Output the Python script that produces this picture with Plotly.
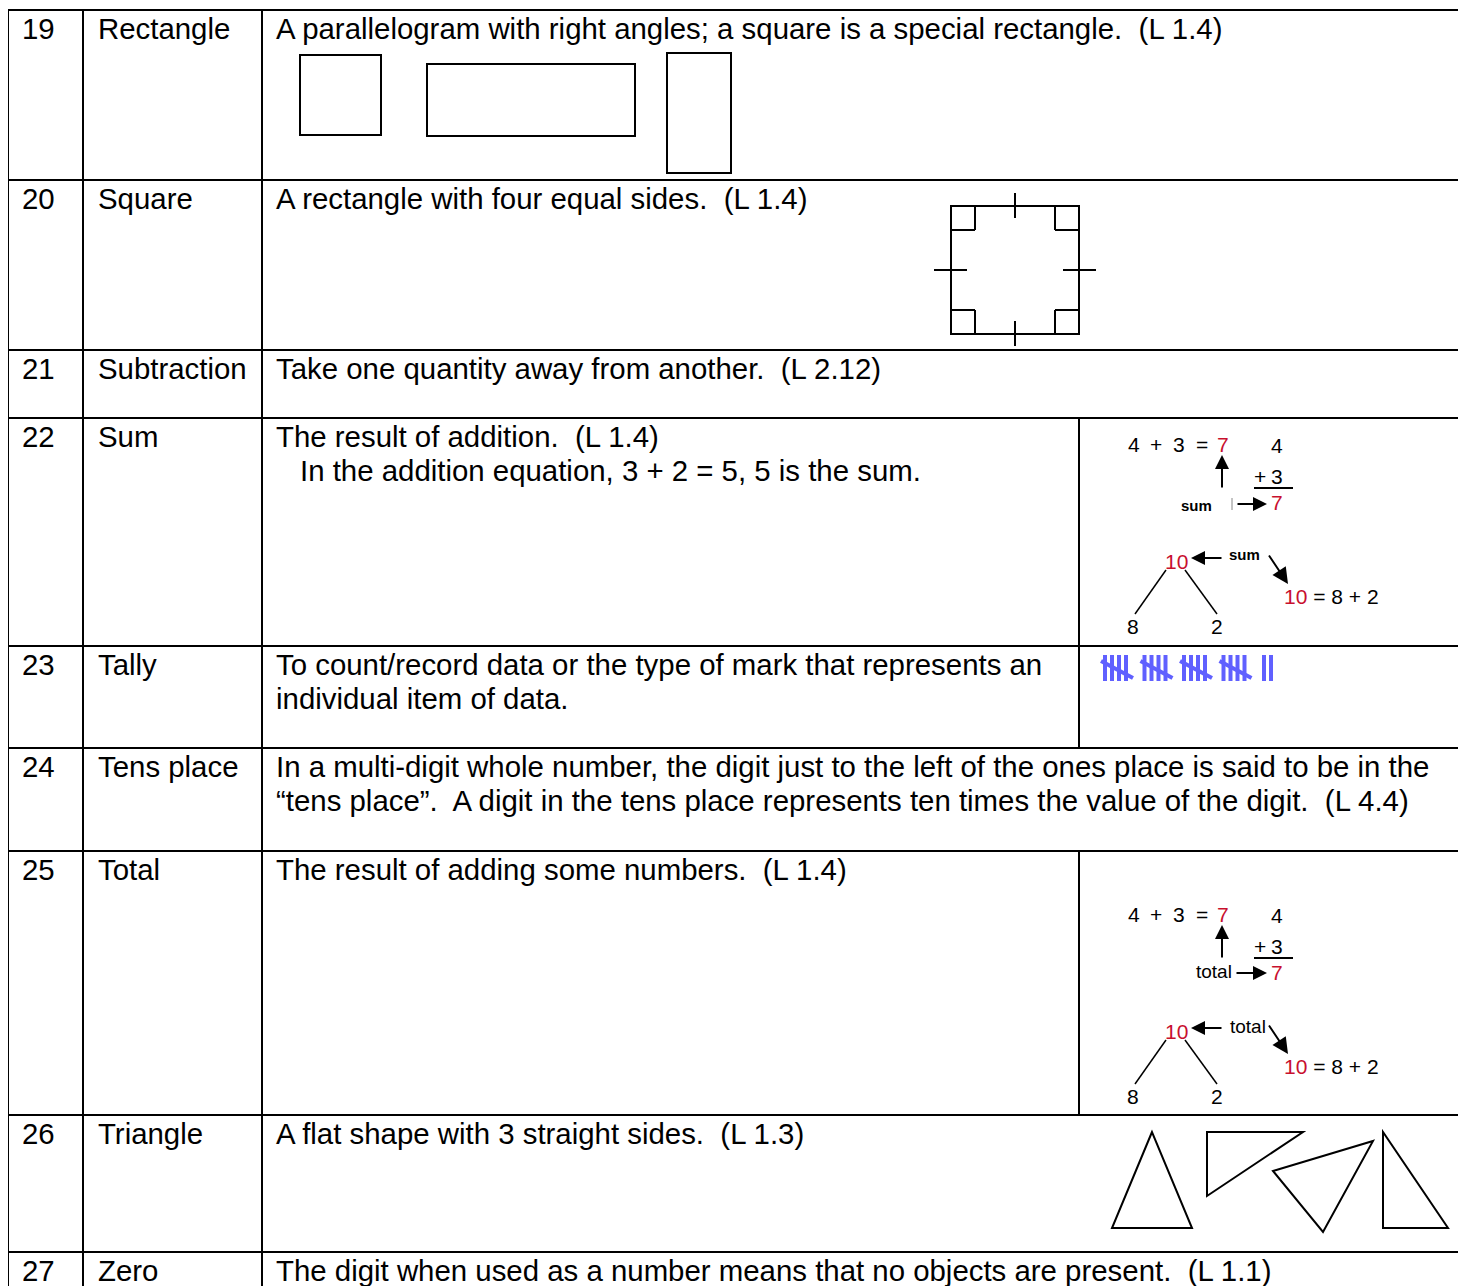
import plotly.graph_objects as go

# glossary content
numbers = ["19", "20", "21", "22", "23", "24", "25", "26", "27"]
terms = ["Rectangle", "Square", "Subtraction", "Sum", "Tally", "Tens place",
         "Total", "Triangle", "Zero"]
definitions = [
    ["A parallelogram with right angles; a square is a special rectangle.  (L 1.4)"],
    ["A rectangle with four equal sides.  (L 1.4)"],
    ["Take one quantity away from another.  (L 2.12)"],
    ["The result of addition.  (L 1.4)",
     "In the addition equation, 3 + 2 = 5, 5 is the sum."],
    ["To count/record data or the type of mark that represents an",
     "individual item of data."],
    ["In a multi-digit whole number, the digit just to the left of the ones place is said to be in the",
     "\u201ctens place\u201d.  A digit in the tens place represents ten times the value of the digit.  (L 4.4)"],
    ["The result of adding some numbers.  (L 1.4)"],
    ["A flat shape with 3 straight sides.  (L 1.3)"],
    ["The digit when used as a number means that no objects are present.  (L 1.1)"],
]
tally_count = 22
addends = [4, 3]
bond_parts = [8, 2]

# page layout (pixels); the page body has an 8px margin, so the axes are offset by it
W, H = 1466, 1286
PAD = 8
row_tops = [10, 180, 350, 418, 646, 748, 851, 1115, 1252]
col_x = [8, 83, 262, 1460]
split_x = 1079
split_rows = [3, 4, 6]          # rows with an illustration column
FONT = "Liberation Sans, Arial, sans-serif"
FS = 29.4
DS = 21                         # diagram font size
RED = "#c8102e"

fig = go.Figure()
shapes = []
ann = []


def line(x0, y0, x1, y1, w=2, color="black"):
    shapes.append(dict(type="line", x0=x0, y0=y0, x1=x1, y1=y1, xref="x", yref="y",
                       line=dict(color=color, width=w)))


def rect(x0, y0, x1, y1, w=2):
    shapes.append(dict(type="rect", x0=x0, y0=y0, x1=x1, y1=y1, xref="x", yref="y",
                       line=dict(color="black", width=w)))


def poly(pts, w=2):
    path = "M " + " L ".join(f"{x},{y}" for x, y in pts) + " Z"
    shapes.append(dict(type="path", path=path, xref="x", yref="y",
                       line=dict(color="black", width=w)))


def text(x, y, s, size=FS, color="black", anchor="left", bold=False):
    if bold:
        s = f"<b>{s}</b>"
    ann.append(dict(x=x, y=y, text=s, showarrow=False, xanchor=anchor, yanchor="middle",
                    font=dict(family=FONT, size=size, color=color), xref="x", yref="y"))


def arrow(x0, y0, x1, y1, size=1.4):
    ann.append(dict(x=x1, y=y1, ax=x0, ay=y0, axref="x", ayref="y", xref="x", yref="y",
                    text="", showarrow=True, arrowhead=2, arrowsize=size, arrowwidth=2,
                    arrowcolor="black", standoff=0, startstandoff=0))


# table grid
table_bottom = H + 30
for y in row_tops:
    line(col_x[0], y, col_x[-1], y)
for x in col_x:
    line(x, row_tops[0], x, table_bottom)
for r in split_rows:
    line(split_x, row_tops[r], split_x, row_tops[r + 1])

# row text
for i, (num, term, lines) in enumerate(zip(numbers, terms, definitions)):
    y = row_tops[i] + 18
    text(20, y, num)
    text(96, y, term)
    for k, s in enumerate(lines):
        indent = 24 if (i == 3 and k == 1) else 0
        text(274 + indent, y + 34 * k, s)

# row 19: rectangles
rect(300, 55, 381, 135)
rect(427, 64, 635, 136)
rect(667, 53, 731, 173)

# row 20: square with right-angle marks and equal-side ticks
sx0, sy0, sx1, sy1, c = 951, 206, 1079, 334, 24
rect(sx0, sy0, sx1, sy1)
for cx, cy, dx, dy in [(sx0, sy0, 1, 1), (sx1, sy0, -1, 1), (sx0, sy1, 1, -1), (sx1, sy1, -1, -1)]:
    line(cx + dx * c, cy, cx + dx * c, cy + dy * c)
    line(cx, cy + dy * c, cx + dx * c, cy + dy * c)
mx, my = (sx0 + sx1) / 2, (sy0 + sy1) / 2
line(mx, sy0 - 13, mx, sy0 + 12)
line(mx, sy1 - 13, mx, sy1 + 12)
line(sx0 - 17, my, sx0 + 16, my)
line(sx1 - 16, my, sx1 + 17, my)


# rows 22 and 25: addition diagrams
def addition_diagram(by, label, bold):
    total = sum(addends)
    toks = [str(addends[0]), "+", str(addends[1]), "="]
    for xx, t in zip([1134, 1156, 1179, 1202], toks):
        text(xx, by, t, size=DS, anchor="center")
    text(1223, by, str(total), size=DS, color=RED, anchor="center")
    text(1277, by + 1, str(addends[0]), size=DS, anchor="center")
    text(1260, by + 32, "+", size=DS, anchor="center")
    text(1277, by + 32, str(addends[1]), size=DS, anchor="center")
    line(1254, by + 44, 1293, by + 44)
    text(1277, by + 58, str(total), size=DS, color=RED, anchor="center")
    arrow(1222, by + 45, 1222, by + 11)
    if bold:
        text(1196, by + 61, label, size=15, anchor="center", bold=True)
        line(1232, by + 54, 1232, by + 66, w=1, color="#888")
        arrow(1236, by + 60, 1267, by + 60)
        text(1244, by + 110, label, size=15, anchor="center", bold=True)
    else:
        text(1214, by + 57, label, size=19, anchor="center")
        arrow(1235, by + 59, 1267, by + 59)
        text(1248, by + 112, label, size=19, anchor="center")
    bond = sum(bond_parts)
    text(1176, by + 117, str(bond), size=DS, color=RED, anchor="center")
    arrow(1223, by + 114, 1191, by + 114)
    arrow(1268, by + 110, 1288, by + 140, size=1.6)
    text(1282, by + 152,
         f"<span style='color:{RED}'>{bond}</span> = {bond_parts[0]} + {bond_parts[1]}",
         size=DS)
    line(1166, by + 126, 1135, by + 170, w=1.5)
    line(1185, by + 126, 1217, by + 170, w=1.5)
    text(1133, by + 182, str(bond_parts[0]), size=DS, anchor="center")
    text(1217, by + 182, str(bond_parts[1]), size=DS, anchor="center")


addition_diagram(444, "sum", True)
addition_diagram(914, "total", False)

# row 23: tally marks
TALLY = "#6060ff"
tx, ty0, ty1 = 1103, 655, 681
groups, rest = divmod(tally_count, 5)
for g in range(groups):
    gx = tx + g * 39.5
    for k in range(4):
        line(gx + 2 + k * 7, ty0, gx + 2 + k * 7, ty1, w=4, color=TALLY)
    line(gx - 2, ty0 + 6, gx + 30, ty1 - 3, w=4, color=TALLY)
for k in range(rest):
    line(tx + groups * 39.5 + 3 + k * 7, ty0, tx + groups * 39.5 + 3 + k * 7, ty1, w=4, color=TALLY)

# row 26: triangles
poly([(1152, 1132), (1112, 1228), (1192, 1228)])
poly([(1207, 1132), (1303, 1132), (1207, 1196)])
poly([(1273, 1171), (1373, 1141), (1323, 1232)])
poly([(1383, 1132), (1383, 1228), (1448, 1228)])

fig.update_layout(
    width=W, height=H,
    margin=dict(l=0, r=0, t=0, b=0),
    paper_bgcolor="white", plot_bgcolor="white",
    xaxis=dict(range=[PAD, W + PAD], visible=False, fixedrange=True),
    yaxis=dict(range=[H + PAD, PAD], visible=False, fixedrange=True),
    shapes=shapes, annotations=ann, showlegend=False,
)
fig.write_html("out.html")
